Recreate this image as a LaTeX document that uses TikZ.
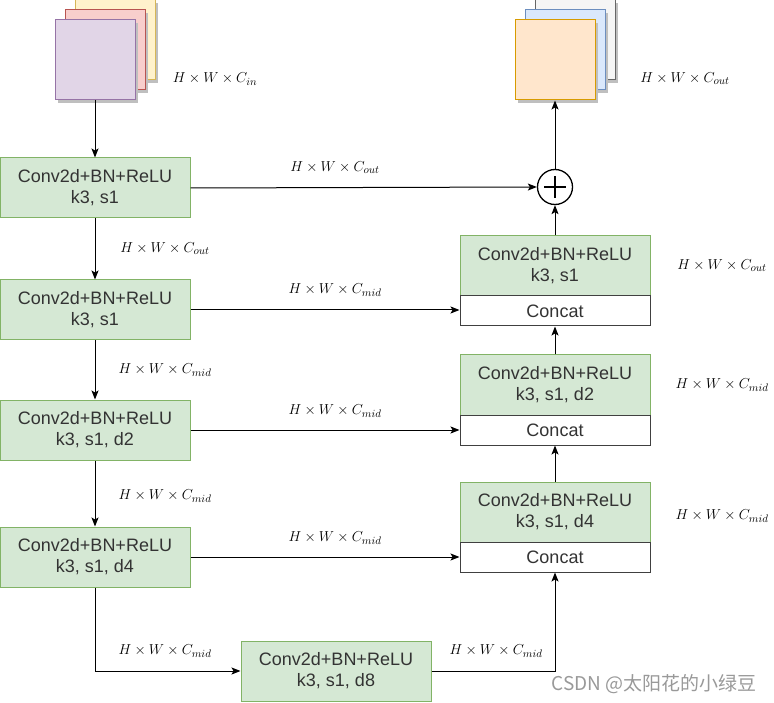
\documentclass[tikz,border=0pt]{standalone}
\usepackage{fontspec}
\setmainfont{Liberation Sans}
\newfontfamily\cjk{Noto Sans CJK SC}
\usetikzlibrary{arrows.meta,positioning}
\definecolor{gfill}{HTML}{D5E8D4}\definecolor{gline}{HTML}{82B366}
\definecolor{pfill}{HTML}{E1D5E7}\definecolor{pline}{HTML}{9673A6}
\definecolor{rfill}{HTML}{F8CECC}\definecolor{rline}{HTML}{B85450}
\definecolor{yfill}{HTML}{FFF2CC}\definecolor{yline}{HTML}{D6B656}
\definecolor{ofill}{HTML}{FFE6CC}\definecolor{oline}{HTML}{D79B00}
\definecolor{bfill}{HTML}{DAE8FC}\definecolor{bline}{HTML}{6C8EBF}
\definecolor{sfill}{HTML}{F5F5F5}\definecolor{sline}{HTML}{666666}
\definecolor{txt}{HTML}{333333}
\begin{document}
\begin{tikzpicture}[x=1pt,y=-1pt,
  conv/.style={draw=gline,fill=gfill,line width=1pt,minimum width=190pt,minimum height=60pt,
    align=center,text=txt,font=\fontsize{18}{21}\selectfont,inner sep=0pt},
  cat/.style={draw=black!75,fill=white,line width=1pt,minimum width=190pt,minimum height=30pt,
    text=txt,font=\fontsize{18}{21}\selectfont,inner sep=0pt},
  sq/.style={line width=1pt,minimum width=80pt,minimum height=80pt,inner sep=0pt},
  shad/.style={fill=black!25,draw=none,minimum width=80pt,minimum height=80pt,inner sep=0pt},
  lbl/.style={font=\fontsize{15.5}{18}\selectfont,inner sep=0pt},
  arr/.style={line width=1pt,-{Stealth[length=9pt,width=7pt,inset=2pt]}},
  ln/.style={line width=1pt}]
\useasboundingbox (0,0) rectangle (774,703);
% input stack
\node[shad] at (118,43) {};
\node[sq,draw=yline,fill=yfill] (in3) at (115,40) {};
\node[shad] at (108,53) {};
\node[sq,draw=rline,fill=rfill] (in2) at (105,50) {};
\node[shad] at (98,63) {};
\node[sq,draw=pline,fill=pfill] (in1) at (95,60) {};
\node[lbl] (lin) at (215,79) {$H\times W\times C_{in}$};
% output stack
\node[shad] at (578,43) {};
\node[sq,draw=sline,fill=sfill] (out3) at (575,40) {};
\node[shad] at (568,53) {};
\node[sq,draw=bline,fill=bfill] (out2) at (565,50) {};
\node[shad] at (558,63) {};
\node[sq,draw=oline,fill=ofill] (out1) at (555,60) {};
\node[lbl] (lout) at (685,79) {$H\times W\times C_{out}$};
% left column
\node[conv] (c1) at (95,188) {Conv2d+BN+ReLU\\k3, s1};
\node[conv] (c2) at (95,310) {Conv2d+BN+ReLU\\k3, s1};
\node[conv] (c3) at (95,430) {Conv2d+BN+ReLU\\k3, s1, d2};
\node[conv] (c4) at (95,557) {Conv2d+BN+ReLU\\k3, s1, d4};
\node[conv] (c5) at (336,671) {Conv2d+BN+ReLU\\k3, s1, d8};
% right column
\node[conv] (r1) at (555,266) {Conv2d+BN+ReLU\\k3, s1};
\node[cat] (k1) at (555,311) {Concat};
\node[conv] (r2) at (555,385) {Conv2d+BN+ReLU\\k3, s1, d2};
\node[cat] (k2) at (555,430) {Concat};
\node[conv] (r3) at (555,512) {Conv2d+BN+ReLU\\k3, s1, d4};
\node[cat] (k3) at (555,557) {Concat};
\node[circle,draw,line width=1.3pt,minimum size=35pt,inner sep=0pt] (plus) at (555,187) {};
\draw[line width=1.3pt] ([yshift=-11pt]plus.center) -- ([yshift=11pt]plus.center)
  ([xshift=-11pt]plus.center) -- ([xshift=11pt]plus.center);
% connectors
\draw[arr] (in1.south) -- (c1.north);
\draw[arr] (c1.south) -- (c2.north);
\draw[arr] (c2.south) -- (c3.north);
\draw[arr] (c3.south) -- (c4.north);
\draw[arr] (c4.south) |- (c5.west);
\draw[arr] (c5.east) -| (k3.south);
\draw[arr] (c1.east) -- (plus.west);
\draw[arr] (c2.east) -- (c2.east -| k1.west);
\draw[arr] (c3.east) -- (k2.west);
\draw[arr] (c4.east) -- (k3.west);
\draw[arr] (r3.north) -- (k2.south);
\draw[arr] (r2.north) -- (k1.south);
\draw[arr] (r1.north) -- (plus.south);
\draw[arr] (plus.north) -- (out1.south);
% labels
\node[lbl] at (335,168) {$H\times W\times C_{out}$};
\node[lbl] at (335,290) {$H\times W\times C_{mid}$};
\node[lbl] at (335,411) {$H\times W\times C_{mid}$};
\node[lbl] at (335,538) {$H\times W\times C_{mid}$};
\node[lbl] at (165,249) {$H\times W\times C_{out}$};
\node[lbl] at (165,370) {$H\times W\times C_{mid}$};
\node[lbl] at (165,496) {$H\times W\times C_{mid}$};
\node[lbl] at (165,651) {$H\times W\times C_{mid}$};
\node[lbl] at (496,651) {$H\times W\times C_{mid}$};
\node[lbl] at (722,266) {$H\times W\times C_{out}$};
\node[lbl] at (722,385) {$H\times W\times C_{mid}$};
\node[lbl] at (722,516) {$H\times W\times C_{mid}$};
\node[font=\cjk\fontsize{19}{22}\selectfont,text=black!40,inner sep=0pt] (wm) at (654,684) {CSDN @太阳花的小绿豆};
\end{tikzpicture}
\end{document}
